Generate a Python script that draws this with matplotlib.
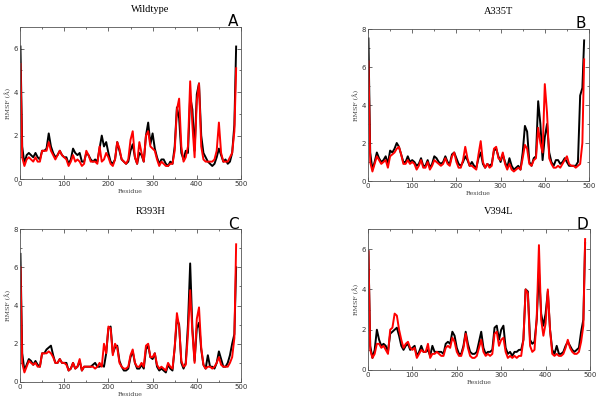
import numpy as np
import matplotlib
matplotlib.use('Agg')
import matplotlib.pyplot as plt
from matplotlib.ticker import MultipleLocator

# residue grid (every 5 residues, plus first and last)
RESIDUES = [1] + list(range(5, 490, 5)) + [489]

WT_BLACK = [6.1, 1.5, 0.7, 1.1, 1.2, 1.1, 1.0, 1.2, 1.0, 0.9, 1.3, 1.3, 1.4, 2.1, 1.5, 1.2, 1.0, 1.1, 1.3, 1.1,
            1.0, 1.0, 0.7, 0.9, 1.4, 1.2, 1.1, 1.2, 0.8, 0.8, 1.2, 1.1, 0.9, 0.8, 0.9, 0.8, 1.4, 2.0, 1.5, 1.7,
            1.2, 0.8, 0.7, 0.9, 1.7, 1.3, 0.9, 0.8, 0.7, 0.8, 1.3, 1.6, 1.0, 0.7, 1.2, 1.1, 0.8, 2.0, 2.6, 1.6,
            2.1, 1.4, 1.0, 0.7, 0.9, 0.9, 0.7, 0.6, 0.8, 0.7, 1.5, 3.3, 2.8, 1.2, 0.9, 1.3, 1.2, 3.8, 3.2, 1.3,
            3.9, 4.4, 2.0, 1.2, 1.0, 0.8, 0.7, 0.6, 0.7, 1.0, 1.4, 1.1, 0.8, 0.9, 0.7, 0.8, 1.2, 2.5, 6.1]
WT_RED = [5.3, 1.0, 0.6, 0.9, 1.0, 0.9, 0.8, 1.0, 0.8, 0.8, 1.3, 1.3, 1.3, 1.7, 1.3, 1.1, 0.9, 1.1, 1.3, 1.1,
          1.0, 0.9, 0.6, 0.8, 1.1, 0.8, 0.9, 0.8, 0.6, 0.7, 1.3, 1.1, 0.8, 0.8, 0.8, 0.7, 1.5, 0.8, 0.9, 1.2,
          1.0, 0.7, 0.6, 0.9, 1.7, 1.4, 0.9, 0.8, 0.7, 0.9, 1.8, 2.2, 1.0, 0.7, 1.7, 1.2, 0.8, 2.0, 2.2, 1.5,
          1.4, 1.3, 0.9, 0.6, 0.8, 0.7, 0.6, 0.6, 0.7, 0.7, 1.3, 3.2, 3.7, 1.5, 0.8, 1.0, 1.5, 4.5, 2.5, 1.0,
          3.6, 4.4, 1.5, 0.9, 0.8, 0.8, 0.8, 0.8, 0.9, 1.3, 2.6, 1.2, 0.8, 0.8, 0.8, 1.0, 1.2, 2.2, 5.1]

A335T_BLACK = [7.5, 1.5, 0.6, 1.0, 1.5, 1.2, 1.0, 1.1, 1.3, 0.9, 1.6, 1.5, 1.7, 2.0, 1.8, 1.4, 1.0, 1.0, 1.3, 1.0,
               1.1, 1.0, 0.8, 0.9, 1.2, 0.8, 0.8, 1.1, 0.7, 0.9, 1.3, 1.2, 1.0, 0.9, 1.0, 1.3, 1.0, 0.9, 1.4, 1.5,
               1.2, 0.9, 0.8, 1.0, 1.3, 1.1, 0.8, 1.0, 0.8, 0.7, 1.2, 1.5, 0.9, 0.7, 0.9, 0.8, 0.9, 1.6, 1.7, 1.3,
               1.0, 1.4, 1.0, 0.7, 1.2, 0.8, 0.6, 0.7, 0.8, 0.6, 1.5, 2.9, 2.6, 1.0, 0.8, 1.2, 1.3, 4.2, 3.0, 1.1,
               2.3, 3.0, 1.5, 1.0, 0.8, 1.1, 1.1, 0.9, 1.0, 1.2, 1.0, 0.8, 0.8, 0.8, 0.8, 1.0, 4.5, 4.9, 7.4]
A335T_RED = [6.3, 1.0, 0.5, 0.9, 1.3, 1.1, 0.9, 1.0, 1.1, 0.7, 1.3, 1.4, 1.5, 1.7, 1.8, 1.4, 0.9, 0.9, 1.1, 0.9,
             1.0, 0.9, 0.6, 0.8, 1.1, 0.7, 0.7, 1.0, 0.6, 0.8, 1.1, 1.0, 0.9, 0.8, 0.9, 1.2, 0.9, 0.8, 1.3, 1.5,
             1.0, 0.7, 0.7, 1.1, 1.8, 1.2, 0.8, 0.8, 0.7, 0.6, 1.4, 2.1, 1.0, 0.7, 0.9, 0.7, 0.8, 1.7, 1.8, 1.2,
             1.1, 1.5, 0.9, 0.6, 0.9, 0.6, 0.5, 0.6, 0.7, 0.6, 1.2, 1.9, 1.7, 0.9, 0.8, 1.1, 1.2, 2.8, 2.0, 1.5,
             5.1, 3.6, 1.2, 0.9, 0.7, 0.7, 0.8, 0.7, 0.9, 1.1, 1.3, 0.9, 0.8, 0.8, 0.7, 0.8, 0.9, 2.0, 6.4]

R393H_BLACK = [6.7, 1.5, 0.6, 0.9, 1.2, 1.1, 0.9, 1.1, 0.9, 0.8, 1.5, 1.5, 1.7, 1.8, 1.9, 1.4, 1.0, 1.0, 1.2, 1.0,
               1.0, 1.0, 0.6, 0.7, 1.0, 0.7, 0.8, 1.1, 0.6, 0.8, 0.8, 0.8, 0.8, 0.9, 1.0, 0.8, 0.8, 0.9, 0.8, 1.5,
               2.8, 2.9, 1.5, 1.8, 1.9, 1.1, 0.8, 0.6, 0.6, 0.7, 1.3, 1.6, 1.0, 0.7, 0.7, 0.9, 0.7, 1.7, 1.9, 1.3,
               1.2, 1.5, 0.8, 0.6, 0.7, 0.6, 0.5, 0.9, 0.7, 0.6, 1.8, 3.3, 3.0, 1.0, 0.7, 1.0, 3.0, 6.2, 2.8, 1.1,
               2.8, 3.1, 1.7, 0.9, 0.7, 1.4, 0.8, 0.8, 0.7, 1.0, 1.6, 1.2, 0.8, 0.8, 1.0, 1.4, 2.0, 2.5, 6.0]
R393H_RED = [6.0, 1.0, 0.5, 0.8, 1.1, 1.0, 0.9, 1.0, 0.8, 0.8, 1.5, 1.5, 1.5, 1.6, 1.5, 1.3, 1.0, 1.0, 1.2, 1.0,
             1.0, 0.9, 0.6, 0.7, 1.0, 0.7, 0.8, 1.2, 0.6, 0.8, 0.8, 0.8, 0.8, 0.8, 0.7, 0.8, 1.0, 0.8, 2.0, 1.5,
             2.9, 2.8, 1.4, 2.0, 1.8, 1.0, 0.8, 0.7, 0.7, 0.8, 1.4, 1.7, 1.0, 0.8, 0.8, 1.0, 0.8, 1.9, 2.0, 1.3,
             1.3, 1.5, 0.9, 0.7, 0.8, 0.7, 0.6, 1.0, 0.8, 0.7, 1.8, 3.6, 2.9, 1.1, 0.8, 0.9, 2.5, 4.8, 2.6, 1.0,
             3.3, 3.9, 1.8, 0.9, 0.7, 0.8, 0.8, 0.7, 0.8, 1.0, 1.3, 0.9, 0.8, 0.8, 0.8, 1.0, 1.3, 2.3, 7.2]

V394L_BLACK = [5.9, 1.2, 0.6, 1.0, 2.0, 1.5, 1.2, 1.3, 1.2, 0.9, 1.8, 1.9, 2.0, 2.1, 1.7, 1.2, 1.0, 1.2, 1.3, 1.0,
               1.1, 1.2, 0.7, 0.9, 1.2, 0.9, 0.9, 1.0, 0.7, 1.2, 0.9, 0.9, 0.9, 0.9, 0.8, 1.3, 1.4, 1.3, 1.9, 1.7,
               1.1, 0.8, 0.8, 1.2, 1.9, 1.3, 0.9, 0.8, 0.8, 0.9, 1.4, 1.9, 1.1, 0.8, 0.9, 0.9, 1.0, 2.1, 2.2, 1.5,
               2.0, 2.2, 1.1, 0.8, 0.9, 0.7, 0.9, 0.9, 1.0, 1.0, 1.5, 4.0, 3.9, 1.5, 1.3, 1.4, 2.5, 4.9, 2.8, 2.2,
               2.8, 3.9, 2.0, 1.0, 0.8, 1.2, 0.8, 0.8, 0.9, 1.2, 1.4, 1.2, 1.0, 0.9, 1.0, 1.1, 1.9, 2.5, 6.3]
V394L_RED = [5.9, 1.0, 0.6, 0.8, 1.3, 1.3, 1.1, 1.2, 1.0, 0.8, 2.0, 2.1, 2.8, 2.7, 2.0, 1.5, 1.1, 1.3, 1.4, 1.1,
             1.0, 1.1, 0.6, 0.8, 1.0, 0.9, 0.9, 1.3, 0.6, 0.8, 0.8, 0.9, 0.8, 0.7, 0.7, 1.1, 1.2, 1.1, 1.6, 1.4,
             0.9, 0.7, 0.7, 1.1, 1.8, 1.1, 0.7, 0.6, 0.6, 0.7, 1.1, 1.5, 0.9, 0.7, 0.8, 0.7, 0.8, 1.8, 1.9, 1.2,
             1.5, 1.6, 0.9, 0.6, 0.7, 0.6, 0.7, 0.6, 0.7, 0.7, 1.5, 4.0, 3.8, 1.2, 0.9, 1.0, 2.6, 6.2, 2.5, 1.7,
             2.3, 4.0, 2.0, 0.8, 0.7, 0.8, 0.7, 0.7, 0.8, 1.1, 1.5, 1.1, 0.9, 0.8, 0.8, 0.9, 1.4, 2.2, 6.5]

# (title, letter, black, red, ymax, axes rect in pixels: left, top, right, bottom)
PANELS = [
    ("Wildtype", "A", WT_BLACK, WT_RED, 7, (20, 27, 241, 179)),
    ("A335T", "B", A335T_BLACK, A335T_RED, 8, (368, 29, 589, 181)),
    ("R393H", "C", R393H_BLACK, R393H_RED, 8, (20, 229, 241, 382)),
    ("V394L", "D", V394L_BLACK, V394L_RED, 7, (368, 229, 590, 370)),
]

W, H = 600, 400
fig = plt.figure(figsize=(6, 4), dpi=100)
fig.patch.set_facecolor('white')

for title, letter, black, red, ymax, (l, t, r, b) in PANELS:
    ax = fig.add_axes([l / W, 1 - b / H, (r - l) / W, (b - t) / H])
    ax.plot(RESIDUES, black, color='black', lw=1.4)
    ax.plot(RESIDUES, red, color='red', lw=1.4)
    ax.set_xlim(0, 500)
    ax.set_ylim(0, ymax)
    ax.xaxis.set_major_locator(MultipleLocator(100))
    ax.xaxis.set_minor_locator(MultipleLocator(50))
    ax.yaxis.set_major_locator(MultipleLocator(2))
    ax.yaxis.set_minor_locator(MultipleLocator(1))
    ax.tick_params(which='both', direction='in', top=True, right=True, labelsize=5, pad=1.5,
                   width=0.5, colors='#333333')
    ax.tick_params(which='major', length=3)
    ax.tick_params(which='minor', length=1.5)
    for sp in ax.spines.values():
        sp.set_linewidth(0.6)
        sp.set_color('#555555')
    ax.set_xlabel("Residue", fontsize=4.5, family='DejaVu Serif', labelpad=1.5, color='#444444')
    ax.set_ylabel("RMSF (Å)", fontsize=4.5, family='DejaVu Serif', labelpad=2, color='#444444')
    cx = (l + r) / 2 + 20
    fig.text(cx / W, 1 - (t - 17) / H, title, ha='center', va='center', fontsize=7.5,
             family='Liberation Serif')
    fig.text((r - 8) / W, 1 - (t - 5) / H, letter, ha='center', va='center', fontsize=11,
             family='DejaVu Sans')

fig.savefig("out.png", dpi=100)
